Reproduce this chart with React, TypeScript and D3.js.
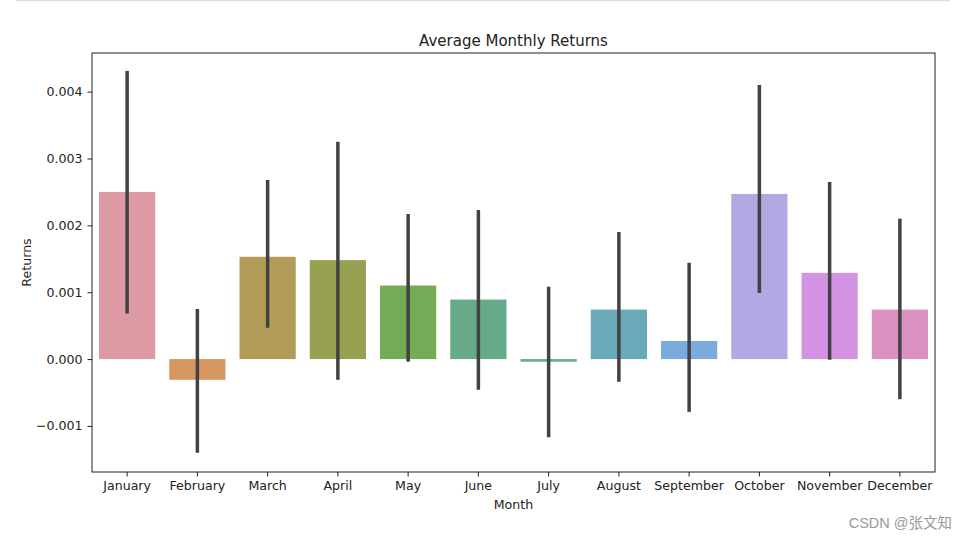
import { useEffect, useRef } from "react";
import * as d3 from "d3";

const months = [
  "January", "February", "March", "April", "May", "June",
  "July", "August", "September", "October", "November", "December",
];
const means = [
  0.0025, -0.00031, 0.00153, 0.00148, 0.0011, 0.00089,
  -0.00004, 0.00074, 0.00027, 0.00247, 0.00129, 0.00074,
];
const ciLow = [
  0.00068, -0.0014, 0.00047, -0.00031, -0.00004, -0.00046,
  -0.00117, -0.00034, -0.00079, 0.00099, -0.00001, -0.0006,
];
const ciHigh = [
  0.00431, 0.00075, 0.00268, 0.00325, 0.00217, 0.00223,
  0.00108, 0.0019, 0.00144, 0.0041, 0.00265, 0.0021,
];
const colors = [
  "#dd9aa4", "#d69661", "#b39c58", "#98a152", "#74ac56", "#66aa8a",
  "#66aa9f", "#68a9ba", "#7babdc", "#b2a8e3", "#d493e2", "#dc92c0",
];
const yTicks = [-0.001, 0, 0.001, 0.002, 0.003, 0.004];

export default function App() {
  const svgRef = useRef<SVGSVGElement | null>(null);

  useEffect(() => {
    const svg = d3.select(svgRef.current);
    svg.selectAll("*").remove();
    const width = 967;
    const height = 540;
    const margin = { top: 53, right: 32, bottom: 68, left: 92 };
    const font = "DejaVu Sans, sans-serif";

    svg.attr("width", width).attr("height", height);

    svg.append("line")
      .attr("x1", 16).attr("x2", 950).attr("y1", 0.5).attr("y2", 0.5)
      .attr("stroke", "#dcdcdc").attr("stroke-width", 1.5);

    const x = d3.scaleBand()
      .domain(months)
      .range([margin.left, width - margin.right])
      .paddingInner(0).paddingOuter(0);

    const y = d3.scaleLinear()
      .domain([-0.001689, 0.004578])
      .range([height - margin.bottom, margin.top]);

    const data = months.map((m, i) => ({
      month: m, mean: means[i], lo: ciLow[i], hi: ciHigh[i], color: colors[i],
    }));

    const bw = x.bandwidth() * 0.8;

    svg.append("g")
      .selectAll("rect")
      .data(data)
      .enter()
      .append("rect")
      .attr("x", (d) => (x(d.month) || 0) + (x.bandwidth() - bw) / 2)
      .attr("width", bw)
      .attr("y", (d) => y(Math.max(0, d.mean)))
      .attr("height", (d) => Math.max(1.2, Math.abs(y(d.mean) - y(0))))
      .attr("fill", (d) => d.color);

    svg.append("g")
      .selectAll("line")
      .data(data)
      .enter()
      .append("line")
      .attr("x1", (d) => (x(d.month) || 0) + x.bandwidth() / 2)
      .attr("x2", (d) => (x(d.month) || 0) + x.bandwidth() / 2)
      .attr("y1", (d) => y(d.lo))
      .attr("y2", (d) => y(d.hi))
      .attr("stroke", "#424242")
      .attr("stroke-width", 3.5);

    const xAxis = svg.append("g")
      .attr("transform", `translate(0,${height - margin.bottom})`)
      .call(d3.axisBottom(x).tickSize(4.5).tickPadding(5).tickSizeOuter(0));
    const yAxis = svg.append("g")
      .attr("transform", `translate(${margin.left},0)`)
      .call(
        d3.axisLeft(y)
          .tickValues(yTicks)
          .tickSize(4.5)
          .tickPadding(5)
          .tickSizeOuter(0)
          .tickFormat((d) => {
            const s = d3.format(".3f")(d as number);
            return s.replace("-", "\u2212");
          })
      );

    [xAxis, yAxis].forEach((g) => {
      g.select(".domain").remove();
      g.selectAll("text")
        .attr("font-family", font)
        .attr("font-size", 12.6)
        .attr("fill", "#222");
      g.selectAll(".tick line").attr("stroke", "#222").attr("stroke-width", 1);
    });

    svg.append("rect")
      .attr("x", margin.left).attr("y", margin.top)
      .attr("width", width - margin.left - margin.right)
      .attr("height", height - margin.top - margin.bottom)
      .attr("fill", "none").attr("stroke", "#222").attr("stroke-width", 1);

    svg.append("text")
      .attr("x", (margin.left + width - margin.right) / 2)
      .attr("y", 46)
      .attr("text-anchor", "middle")
      .attr("font-family", font)
      .attr("font-size", 15)
      .attr("fill", "#222")
      .text("Average Monthly Returns");

    svg.append("text")
      .attr("x", (margin.left + width - margin.right) / 2)
      .attr("y", 509)
      .attr("text-anchor", "middle")
      .attr("font-family", font)
      .attr("font-size", 12.6)
      .attr("fill", "#222")
      .text("Month");

    svg.append("text")
      .attr("transform", `translate(31,${(margin.top + height - margin.bottom) / 2}) rotate(-90)`)
      .attr("text-anchor", "middle")
      .attr("font-family", font)
      .attr("font-size", 12.6)
      .attr("fill", "#222")
      .text("Returns");

    svg.append("text")
      .attr("x", 952)
      .attr("y", 528)
      .attr("text-anchor", "end")
      .attr("font-family", "Liberation Sans, Noto Sans CJK SC, sans-serif")
      .attr("font-size", 14.5)
      .attr("fill", "#9a9a9a")
      .text("CSDN @张文知");
  }, []);

  return (
    <div style={{ position: "absolute", left: 0, top: 0 }}>
      <svg ref={svgRef} style={{ display: "block", background: "#fff" }} />
    </div>
  );
}
